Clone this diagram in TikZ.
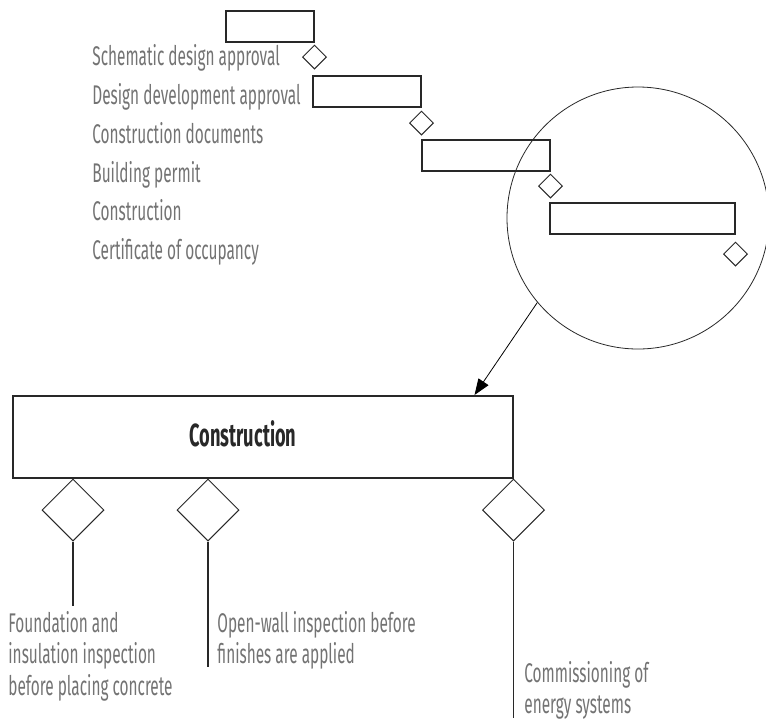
\documentclass[tikz,border=0pt]{standalone}
\usepackage{fontspec}
\usetikzlibrary{arrows.meta,positioning,shapes.geometric}
\newfontfamily\handfont{Fira Sans}[FakeStretch=0.57]
\newfontfamily\boxfont{Fira Sans}[FakeStretch=0.57]
\definecolor{ink}{RGB}{40,40,40}
\definecolor{pencil}{RGB}{115,115,115}
\tikzset{
  bar/.style={draw=ink,line width=0.75pt,minimum height=15.5pt,inner sep=0pt,
    anchor=north west},
  ms/.style={diamond,draw=ink,line width=0.5pt,minimum width=12pt,
    minimum height=12pt,inner sep=0pt},
  gate/.style={diamond,draw=ink,line width=0.5pt,minimum width=31pt,
    minimum height=31pt,inner sep=0pt,anchor=north},
  task/.style={font=\handfont\fontsize{13.5}{15.75}\selectfont,text=pencil,
    inner sep=0pt,anchor=base west},
  note/.style={task,align=left,anchor=north west},
  stem/.style={draw=ink,line width=0.6pt},
  pull/.style={-{Triangle[length=8pt,width=6pt]},line width=0.4pt},
}

\begin{document}
\begin{tikzpicture}[x=0.5pt,y=-0.5pt]
  \useasboundingbox (0,0) rectangle (766,719);

  % schedule: phase bars and milestones
  \foreach \txt [count=\i] in {Schematic design approval,
      Design development approval,Construction documents,
      Building permit,Construction,Certificate of occupancy}
    \node[task] (t\i) at (92,{26.9+38.8*\i}) {\txt};

  \node[bar,minimum width=44pt] (b1) at (225,10) {};
  \node[ms,below=1pt of b1.south east] (m1) {};
  \node[bar,minimum width=54pt] (b2) at (312,75) {};
  \node[ms,below=1.5pt of b2.south east] (m2) {};
  \node[bar,minimum width=64pt] (b3) at (421,139) {};
  \node[ms,below=1pt of b3.south east] (m3) {};
  \node[bar,minimum width=92.5pt] (b4) at (549,202) {};
  \node[ms,below=3.5pt of b4.south east] (m4) {};

  % magnifier on the construction phase
  \node[circle,draw=ink,line width=0.4pt,minimum size=131pt,inner sep=0pt]
    (zoom) at (638,218) {};

  % detail of the construction phase
  \node[draw=ink,line width=0.75pt,minimum width=250pt,minimum height=41pt,
    inner sep=0pt,anchor=north west] (work) at (12,395) {};
  \node[font=\boxfont\bfseries\fontsize{16}{18}\selectfont,text=ink,
    inner sep=0pt] (worktxt) at (243,434) {Construction};
  \draw[pull] (zoom.220) -- ([xshift=-19.5pt]work.north east);

  \node[gate] (g1) at ([xshift=30.5pt]work.south west) {};
  \node[gate] (g2) at ([xshift=98pt]work.south west) {};
  \node[gate] (g3) at (work.south east) {};
  \draw[stem] (g1.south) -- ++(0,64) coordinate (e1);
  \draw[stem] (g2.south) -- ++(0,125) coordinate (e2);
  \draw[stem] (g3.south) -- ++(0,176) coordinate (e3);

  \node[note] (n1) at (8,611) {Foundation and\\insulation inspection\\
    before placing concrete};
  \node[note] (n2) at (217,611) {Open-wall inspection before\\
    finishes are applied};
  \node[note] (n3) at (524,661) {Commissioning of\\energy systems};
\end{tikzpicture}
\end{document}
